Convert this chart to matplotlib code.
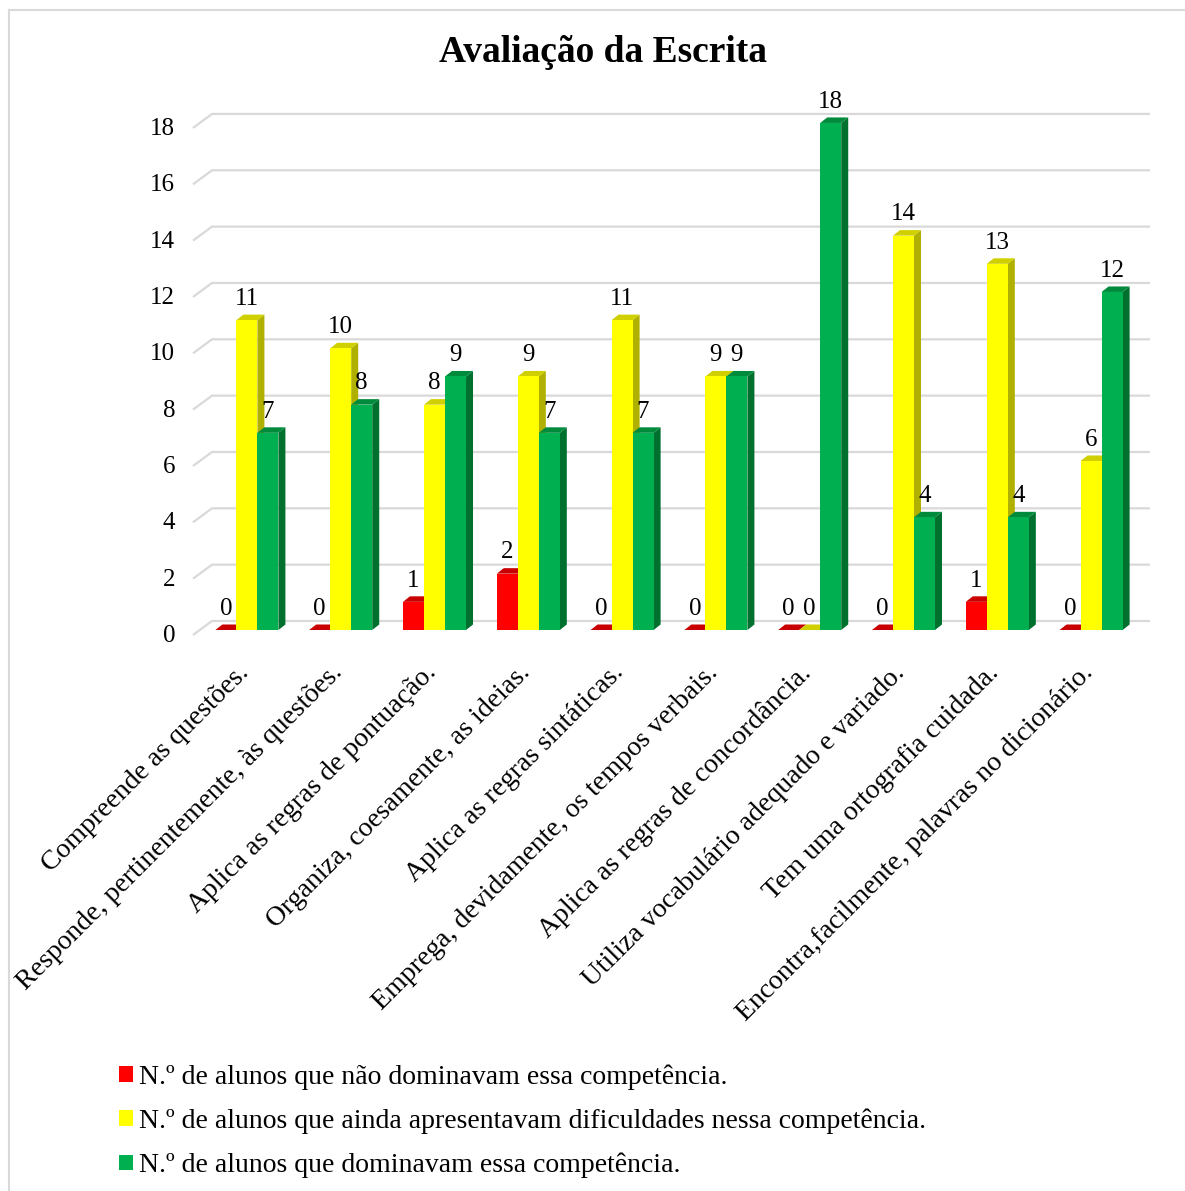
import matplotlib
matplotlib.use("Agg")
import matplotlib.pyplot as plt
from matplotlib.patches import Polygon, Patch
from matplotlib.lines import Line2D
import numpy as np

plt.rcParams['font.family'] = ['Liberation Serif', 'DejaVu Serif']

title = "Avaliação da Escrita"
categories = [
    "Compreende as questões.",
    "Responde, pertinentemente, às questões.",
    "Aplica as regras de pontuação.",
    "Organiza, coesamente, as ideias.",
    "Aplica as regras sintáticas.",
    "Emprega, devidamente, os tempos verbais.",
    "Aplica as regras de concordância.",
    "Utiliza vocabulário adequado e variado.",
    "Tem uma ortografia cuidada.",
    "Encontra,facilmente, palavras no dicionário.",
]
series_names = [
    "N.º de alunos que não dominavam essa competência.",
    "N.º de alunos que ainda apresentavam dificuldades nessa competência.",
    "N.º de alunos que dominavam essa competência.",
]
nao_dominavam = [0, 0, 1, 2, 0, 0, 0, 0, 1, 0]
dificuldades = [11, 10, 8, 9, 11, 9, 0, 14, 13, 6]
dominavam = [7, 8, 9, 7, 7, 9, 18, 4, 4, 12]
yticks = [0, 2, 4, 6, 8, 10, 12, 14, 16, 18]

front_colors = ["#FF0000", "#FFFF00", "#00B050"]
side_colors = ["#A80000", "#B0B000", "#00702F"]
top_colors = ["#C80000", "#D0D000", "#008A3C"]

W, H = 1185, 1191
fig = plt.figure(figsize=(W / 100, H / 100), dpi=100)

# geometry in pixels
px_cat = 93.8          # pixels per category
px_val = 28.17         # pixels per unit
left_px, zero_px = 193, 635
wall_dx, wall_dy = 19, 14
ymax = 19.0
xmin = -0.5
xmax = 9.5 + wall_dx / px_cat
ax_w = (xmax - xmin) * px_cat
ax_h = ymax * px_val
ax = fig.add_axes([left_px / W, (H - zero_px) / H, ax_w / W, ax_h / H])
ax.set_xlim(xmin, xmax)
ax.set_ylim(0, ymax)
ax.axis('off')

dxu = 1.0 / px_cat   # one pixel in x data units
dyu = 1.0 / px_val   # one pixel in y data units

# gridlines (back wall + left floor diagonal)
for v in yticks:
    ax.plot([xmin, xmin + wall_dx * dxu, xmax], [v, v + wall_dy * dyu, v + wall_dy * dyu],
            color="#D9D9D9", lw=1.6, clip_on=False, zorder=1, solid_capstyle='butt')
    ax.text(xmin - 18 * dxu, v - 1 * dyu, str(v), ha='right', va='center', fontsize=18,
            clip_on=False)

# bars
bw = 0.224
front_off = (7 * dxu, 5 * dyu)
depth = (7 * dxu, 5.5 * dyu)
x = np.arange(len(categories))
all_series = [nao_dominavam, dificuldades, dominavam]
for si, vals in enumerate(all_series):
    xs = x + (si - 1) * bw + front_off[0]
    base = front_off[1]
    for xi, v in zip(xs, vals):
        x0, x1 = xi - bw / 2, xi + bw / 2
        y0, y1 = base, base + v
        dx, dy = depth
        # side face
        ax.add_patch(Polygon([(x1, y0), (x1 + dx, y0 + dy), (x1 + dx, y1 + dy), (x1, y1)],
                             closed=True, facecolor=side_colors[si], edgecolor='none',
                             zorder=2 + si * 0.1, clip_on=False))
        # top face
        ax.add_patch(Polygon([(x0, y1), (x0 + dx, y1 + dy), (x1 + dx, y1 + dy), (x1, y1)],
                             closed=True, facecolor=top_colors[si], edgecolor='none',
                             zorder=2 + si * 0.1, clip_on=False))
    ax.bar(xs, vals, width=bw, bottom=base, color=front_colors[si], zorder=2.05 + si * 0.1,
           clip_on=False, linewidth=0)
    for xi, v in zip(xs, vals):
        ax.annotate(str(v), (xi, base + v), xytext=(0, 11), textcoords='offset points',
                    ha='center', va='baseline', fontsize=18, zorder=5)

# category labels
for xi, lab in zip(x, categories):
    ax.text(xi + 5 * dxu, -34 * dyu, lab, rotation=45, rotation_mode='anchor',
            ha='right', va='center', fontsize=20, clip_on=False)

fig.text(603 / W, 1 - 52 / H, title, ha='center', va='center', fontsize=27, fontweight='bold')

handles = [Patch(facecolor=c, edgecolor='none') for c in front_colors]
fig.legend(handles, series_names, loc='upper left', bbox_to_anchor=(119 / W, 1 - 1064 / H),
           frameon=False, fontsize=20, handlelength=0.5, handleheight=0.5,
           handletextpad=0.22, labelspacing=0.68, borderaxespad=0, borderpad=0)

# chart border (top and left visible)
fig.add_artist(Line2D([9 / W, 9 / W], [0, 1 - 10 / H], color="#D9D9D9", lw=1.5))
fig.add_artist(Line2D([9 / W, 1], [1 - 10 / H, 1 - 10 / H], color="#D9D9D9", lw=1.5))

fig.savefig("out.png", dpi=100, facecolor='white')
